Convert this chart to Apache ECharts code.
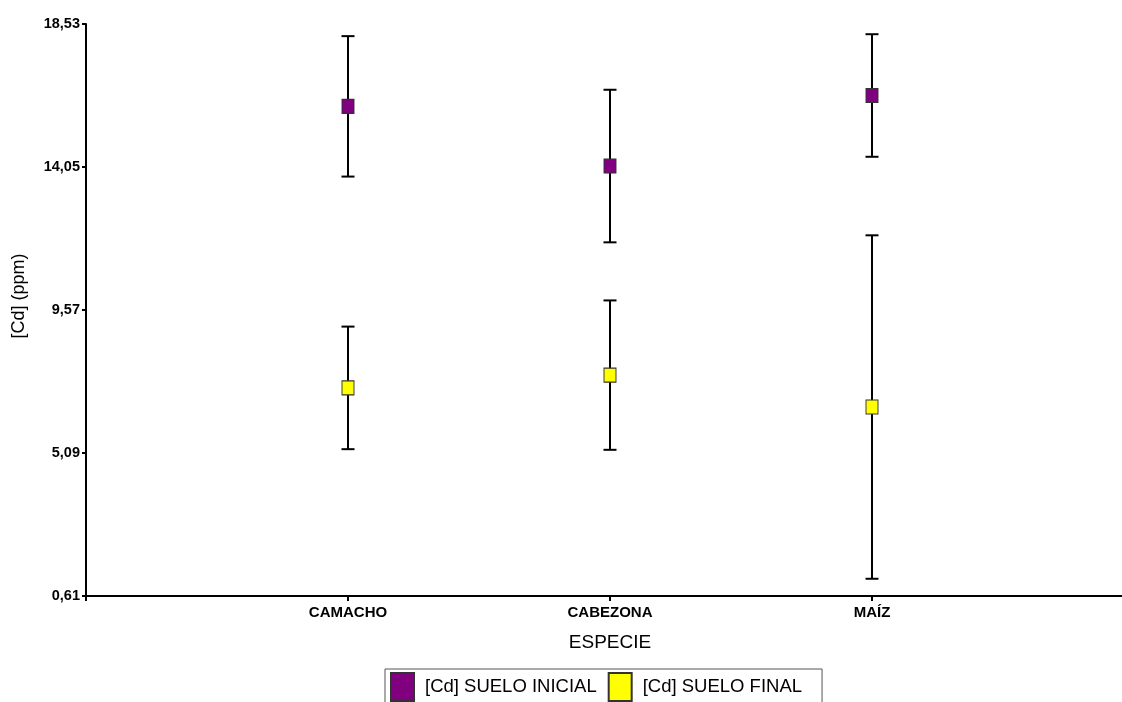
<!DOCTYPE html>
<html>
<head>
<meta charset="utf-8">
<style>
  html, body { margin: 0; padding: 0; background: #fff; }
  #chart { width: 1122px; height: 702px; }
</style>
<script src="https://cdn.jsdelivr.net/npm/echarts@6/dist/echarts.min.js"></script>
</head>
<body>
<div id="chart"></div>
<script>
// Species and Cd concentrations in soil (mean ± deviation, ppm)
const categories = ['CAMACHO', 'CABEZONA', 'MAÍZ'];
const inicialMean = [15.95, 14.08, 16.29];
const inicialErr = [2.20, 2.39, 1.92];
const finalMean = [7.13, 7.53, 6.53];
const finalErr = [1.92, 2.34, 5.38];
const yTicks = [0.61, 5.09, 9.57, 14.05, 18.53];

const seriesInicial = '[Cd] SUELO INICIAL';
const seriesFinal = '[Cd] SUELO FINAL';

// empty slots on both ends leave a gap before the first and after the last species
const axisCategories = [''].concat(categories, ['']);

function pointData(means) {
  return categories.map((c, i) => [c, means[i]]);
}
function errorData(means, errs) {
  return categories.map((c, i) => [c, means[i] - errs[i], means[i] + errs[i]]);
}

function renderErrorBar(params, api) {
  const x = api.value(0);
  const lo = api.coord([x, api.value(1)]);
  const hi = api.coord([x, api.value(2)]);
  const half = 6.5;
  const style = { stroke: '#000', lineWidth: 2 };
  return {
    type: 'group',
    children: [
      { type: 'line', shape: { x1: hi[0], y1: hi[1], x2: lo[0], y2: lo[1] }, style: style },
      { type: 'line', shape: { x1: hi[0] - half, y1: hi[1], x2: hi[0] + half, y2: hi[1] }, style: style },
      { type: 'line', shape: { x1: lo[0] - half, y1: lo[1], x2: lo[0] + half, y2: lo[1] }, style: style }
    ]
  };
}

const font = '"Liberation Sans", Arial, sans-serif';
const chart = echarts.init(document.getElementById('chart'), null, { renderer: 'canvas' });

chart.setOption({
  animation: false,
  backgroundColor: '#fff',
  textStyle: { fontFamily: font, color: '#000' },
  // the plot area runs past the right edge of the canvas
  grid: { left: 86, width: 1048, top: 24, height: 572, containLabel: false, outerBoundsMode: 'none' },
  xAxis: {
    type: 'category',
    data: axisCategories,
    boundaryGap: false,
    name: 'ESPECIE',
    nameLocation: 'middle',
    nameGap: 37,
    nameTextStyle: { fontFamily: font, fontSize: 19, color: '#000' },
    axisLine: { lineStyle: { color: '#000', width: 2 } },
    axisTick: { show: true, length: 5, alignWithLabel: true, lineStyle: { color: '#000', width: 2 } },
    axisLabel: { interval: 0, margin: 9, fontFamily: font, fontSize: 15, fontWeight: 'bold', color: '#000' },
    splitLine: { show: false }
  },
  yAxis: {
    type: 'value',
    min: yTicks[0],
    max: yTicks[yTicks.length - 1],
    name: '[Cd] (ppm)',
    nameLocation: 'middle',
    nameGap: 58,
    nameTextStyle: { fontFamily: font, fontSize: 18, color: '#000', padding: [0, 0, 0, 28] },
    axisLine: { show: true, lineStyle: { color: '#000', width: 2 } },
    axisTick: { show: true, length: 4, customValues: yTicks, lineStyle: { color: '#000', width: 2 } },
    axisLabel: {
      customValues: yTicks,
      margin: 6,
      fontFamily: font, fontSize: 14.5, fontWeight: 'bold', color: '#000',
      formatter: v => v.toFixed(2).replace('.', ',')
    },
    splitLine: { show: false }
  },
  legend: {
    data: [seriesInicial, seriesFinal],
    left: 385,
    top: 669,
    orient: 'horizontal',
    icon: 'rect',
    itemWidth: 23,
    itemHeight: 28,
    itemGap: 11,
    padding: [3, 20, 8, 5],
    borderColor: '#555',
    borderWidth: 1,
    textStyle: { fontFamily: font, fontSize: 18.5, color: '#000', padding: [0, 0, 0, 6] }
  },
  series: [
    {
      name: 'errInicial',
      type: 'custom',
      renderItem: renderErrorBar,
      encode: { x: 0, y: [1, 2] },
      data: errorData(inicialMean, inicialErr),
      z: 1
    },
    {
      name: 'errFinal',
      type: 'custom',
      renderItem: renderErrorBar,
      encode: { x: 0, y: [1, 2] },
      data: errorData(finalMean, finalErr),
      z: 1
    },
    {
      name: seriesInicial,
      type: 'scatter',
      symbol: 'rect',
      symbolSize: [12, 14],
      itemStyle: { color: '#800080', borderColor: '#333', borderWidth: 1, opacity: 1 },
      data: pointData(inicialMean),
      z: 3
    },
    {
      name: seriesFinal,
      type: 'scatter',
      symbol: 'rect',
      symbolSize: [12, 14],
      itemStyle: { color: '#FFFF00', borderColor: '#333', borderWidth: 1, opacity: 1 },
      data: pointData(finalMean),
      z: 3
    }
  ]
});
</script>
</body>
</html>
